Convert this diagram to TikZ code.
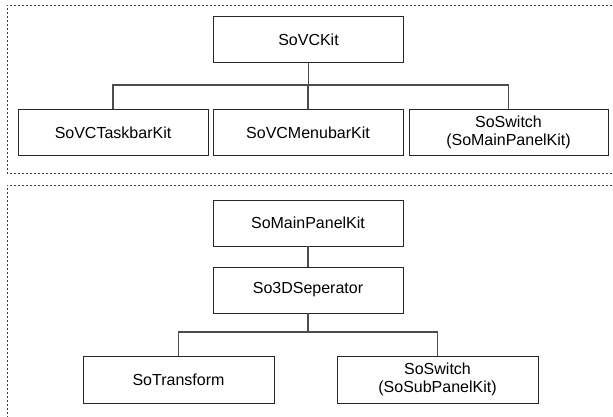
\documentclass[tikz,border=0pt]{standalone}
\usepackage{fontspec}
\setmainfont{Liberation Sans}
\begin{document}
\begin{tikzpicture}[x=1pt,y=-1pt,
  kit/.style={draw=black!85, line width=0.9pt, fill=white, inner sep=0pt,
    minimum width=190pt, minimum height=46pt, align=center,
    font=\fontsize{16}{18.5}\selectfont},
  link/.style={draw=black!70, line width=1.1pt},
  group/.style={draw=black!75, line width=1pt, dash pattern=on 2pt off 2pt}]
\useasboundingbox (0,0) rectangle (613,416);
\clip (0,0) rectangle (613,416);

% dashed frames, running off the right and bottom edges
\draw[group] (640,5) -- (7,5) -- (7,173) -- (640,173);
\draw[group] (640,185) -- (7,185) -- (7,440);

% upper group
\node[kit] (vckit) at (308.5,39.5) {SoVCKit};
\node[kit] (task) at (113,132.5) {SoVCTaskbarKit};
\node[kit] (menu) at (308,132.5) {SoVCMenubarKit};
\node[kit, minimum width=199pt] (mainsw) at (508.5,132.5) {SoSwitch\\(SoMainPanelKit)};

\coordinate (busA) at (0,85);
\draw[link] (vckit.south) -- (vckit.south |- busA);
\draw[link] (task.north) -- (task.north |- busA) -- (mainsw.north |- busA) -- (mainsw.north);
\draw[link] (menu.north) -- (menu.north |- busA);

% lower group
\node[kit] (mpk) at (308,223) {SoMainPanelKit};
\node[kit] (sep) at (308,290) {So3DSeperator};
\node[kit, minimum width=191pt, minimum height=47pt] (xf) at (178.5,379.5) {SoTransform};
\node[kit, minimum width=201pt, minimum height=47pt] (subsw) at (437.5,379.5) {SoSwitch\\(SoSubPanelKit)};

\coordinate (busB) at (0,332);
\draw[link] (mpk) -- (sep);
\draw[link] (sep.south) -- (sep.south |- busB);
\draw[link] (xf.north) -- (xf.north |- busB) -- (subsw.north |- busB) -- (subsw.north);
\end{tikzpicture}
\end{document}
